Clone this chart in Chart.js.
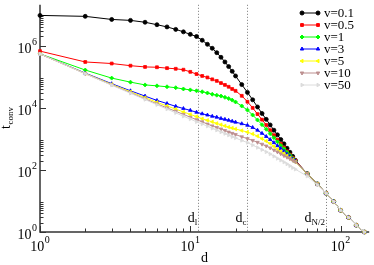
<!DOCTYPE html>
<html>
<head>
<meta charset="utf-8">
<script src="https://cdn.jsdelivr.net/npm/chart.js@4.4.1/dist/chart.umd.min.js"></script>
<style>
  html, body { margin: 0; padding: 0; background: #fff; }
  #wrap { width: 374px; height: 265px; }
</style>
</head>
<body>
<div id="wrap"><canvas id="chart" width="374" height="265"></canvas></div>
<script>
// distance d of each sample
const DISTANCES = [1, 2, 3, 4, 5, 6, 7, 8, 9, 10, 11, 12, 13, 14, 15, 16, 17, 18, 19, 20,
  22, 24, 26, 28, 30, 32, 34, 36, 38, 40, 42, 44, 46, 48, 50,
  60, 70, 80, 90, 100, 113, 127, 144];

// t_conv for each v
const T_V01 = [9.55e6, 8.91e6, 7.08e6, 6.61e6, 5.75e6, 4.79e6, 4.07e6, 3.39e6, 2.82e6, 2.34e6, 2.0e6, 1.51e6, 1.12e6, 8.32e5, 6.03e5, 4.27e5, 3.02e5, 2.14e5, 1.51e5, 1.07e5,
  5.62e4, 3.16e4, 1.82e4, 1.07e4, 6610, 4270, 2820, 1910, 1350, 955, 692, 501, 372, 275, 204,
  75.9, 35.5, 17.8, 9.55, 5.0, 2.95, 1.66, 1.0];
const T_V05 = [6.76e5, 3.02e5, 2.69e5, 2.29e5, 2.09e5, 2.04e5, 1.91e5, 1.82e5, 1.70e5, 1.45e5, 1.23e5, 1.07e5, 9.55e4, 8.32e4, 7.41e4, 6.31e4, 5.5e4, 4.79e4, 4.07e4, 3.55e4,
  2.45e4, 1.58e4, 1.0e4, 6310, 4170, 2820, 1910, 1320, 933, 692, 525, 398, 309, 245, 200,
  75.9, 35.5, 17.8, 9.55, 5.0, 2.95, 1.66, 1.0];
const T_V1 = [5.5e5, 1.66e5, 9.12e4, 6.76e4, 5.5e4, 5.13e4, 4.79e4, 4.47e4, 4.07e4, 3.8e4, 3.55e4, 3.31e4, 3.02e4, 2.75e4, 2.57e4, 2.4e4, 2.19e4, 2.0e4, 1.78e4, 1.55e4,
  1.15e4, 8510, 5890, 4070, 2880, 2040, 1480, 1100, 813, 617, 479, 372, 295, 234, 191,
  75.9, 35.5, 17.8, 9.55, 5.0, 2.95, 1.66, 1.0];
const T_V3 = [5.5e5, 1.32e5, 6.03e4, 3.55e4, 2.4e4, 1.74e4, 1.38e4, 1.12e4, 9550, 8320, 7240, 6460, 5890, 5370, 5010, 4570, 4270, 3980, 3720, 3470,
  3090, 2750, 2340, 1910, 1510, 1200, 955, 759, 603, 490, 398, 324, 269, 224, 191,
  75.9, 35.5, 17.8, 9.55, 5.0, 2.95, 1.66, 1.0];
const T_V5 = [5.5e5, 1.29e5, 5.75e4, 3.31e4, 2.14e4, 1.51e4, 1.15e4, 9120, 7410, 6170, 5250, 4470, 3980, 3550, 3160, 2880, 2630, 2400, 2240, 2090,
  1860, 1660, 1450, 1230, 1020, 851, 708, 575, 468, 398, 339, 288, 245, 209, 182,
  75.9, 35.5, 17.8, 9.55, 5.0, 2.95, 1.66, 1.0];
const T_V10 = [5.5e5, 1.26e5, 5.5e4, 3.09e4, 1.95e4, 1.35e4, 1.0e4, 7760, 6170, 5010, 4170, 3550, 3020, 2630, 2340, 2090, 1860, 1660, 1510, 1380,
  1170, 1020, 891, 776, 676, 589, 513, 437, 380, 331, 288, 257, 229, 204, 182,
  75.9, 35.5, 17.8, 9.55, 5.0, 2.95, 1.66, 1.0];
const T_V50 = [5.5e5, 1.26e5, 5.37e4, 2.95e4, 1.86e4, 1.26e4, 9120, 6920, 5370, 4370, 3550, 3020, 2570, 2190, 1910, 1660, 1480, 1320, 1170, 1070,
  891, 759, 631, 525, 447, 380, 324, 275, 234, 204, 178, 155, 135, 117, 105,
  63, 33, 17.8, 9.55, 5.0, 2.95, 1.66, 1.0];

const X_MAJOR = [1, 10, 100];
const Y_MAJOR = [1, 100, 1e4, 1e6];

// reference distances marked with dotted lines
const MARK_D = [11.3, 24, 80];
const MARK_SUB = ['l', 'c', 'N/2'];
const MARK_TOP = [null, null, 1000];

const SERIES = [
  { label: 'v=0.1', data: T_V01, color: '#000000', style: 'circle', rot: 0 },
  { label: 'v=0.5', data: T_V05, color: '#ff0000', style: 'rect', rot: 0 },
  { label: 'v=1', data: T_V1, color: '#00ff00', style: 'rectRot', rot: 0 },
  { label: 'v=3', data: T_V3, color: '#0000ff', style: 'triangle', rot: 0 },
  { label: 'v=5', data: T_V5, color: '#ffff00', style: 'triangle', rot: -90 },
  { label: 'v=10', data: T_V10, color: '#bc8f8f', style: 'triangle', rot: 180 },
  { label: 'v=50', data: T_V50, color: '#dcdcdc', style: 'triangle', rot: 90 },
];

const SERIF = '"Liberation Serif", "DejaVu Serif", serif';

function drawPower(ctx, exp, x, y, align) {
  ctx.font = `14px ${SERIF}`;
  const base = ctx.measureText('10').width;
  ctx.font = `10px ${SERIF}`;
  const sup = ctx.measureText(String(exp)).width;
  const total = base + sup + 0.5;
  const left = align === 'right' ? x - total : x - total / 2;
  ctx.font = `14px ${SERIF}`;
  ctx.fillText('10', left, y);
  ctx.font = `10px ${SERIF}`;
  ctx.fillText(String(exp), left + base + 0.5, y - 8);
}

function drawSubscripted(ctx, main, sub, right, y) {
  ctx.font = `14px ${SERIF}`;
  const w1 = ctx.measureText(main).width;
  ctx.font = `9px ${SERIF}`;
  const w2 = ctx.measureText(sub).width;
  const left = right - w1 - w2;
  ctx.font = `14px ${SERIF}`;
  ctx.fillText(main, left, y);
  ctx.font = `9px ${SERIF}`;
  ctx.fillText(sub, left + w1, y + 3);
}

const decor = {
  id: 'decor',
  beforeDatasetsDraw(chart) {
    const { ctx, chartArea: a, scales: { x, y } } = chart;
    ctx.save();
    // dotted reference lines
    ctx.strokeStyle = '#777';
    ctx.lineWidth = 1;
    ctx.setLineDash([1, 2]);
    MARK_D.forEach((d, i) => {
      const px = Math.round(x.getPixelForValue(d)) + 0.5;
      const top = MARK_TOP[i] ? y.getPixelForValue(MARK_TOP[i]) : a.top;
      ctx.beginPath();
      ctx.moveTo(px, top);
      ctx.lineTo(px, a.bottom);
      ctx.stroke();
    });
    ctx.setLineDash([]);

    // axes
    ctx.strokeStyle = '#333';
    ctx.lineWidth = 1.5;
    ctx.beginPath();
    ctx.moveTo(a.left, a.top);
    ctx.lineTo(a.left, a.bottom);
    ctx.lineTo(a.right, a.bottom);
    ctx.stroke();

    ctx.lineWidth = 1;
    ctx.beginPath();
    X_MAJOR.forEach((m) => {
      for (let k = 1; k <= 9; k++) {
        const v = m * k;
        if (v > x.max) break;
        const px = Math.round(x.getPixelForValue(v)) + 0.5;
        const len = k === 1 ? 6 : 3.5;
        ctx.moveTo(px, a.bottom);
        ctx.lineTo(px, a.bottom - len);
      }
    });
    Y_MAJOR.forEach((m) => {
      for (let k = 1; k <= 9; k++) {
        const v = m * k;
        if (v > y.max) break;
        const py = Math.round(y.getPixelForValue(v)) + 0.5;
        const len = k === 1 ? 6 : 3.5;
        ctx.moveTo(a.left, py);
        ctx.lineTo(a.left + len, py);
      }
    });
    ctx.stroke();
    ctx.restore();
  },
  afterDraw(chart) {
    const { ctx, chartArea: a, scales: { x, y } } = chart;
    ctx.save();
    ctx.fillStyle = '#000';
    ctx.textBaseline = 'alphabetic';
    ctx.textAlign = 'left';

    // tick labels
    X_MAJOR.forEach((m) => {
      drawPower(ctx, Math.round(Math.log10(m)), x.getPixelForValue(m), a.bottom + 19, 'center');
    });
    Y_MAJOR.forEach((m) => {
      drawPower(ctx, Math.round(Math.log10(m)), a.left - 3, y.getPixelForValue(m) + 7, 'right');
    });

    // axis titles
    ctx.font = `14px ${SERIF}`;
    ctx.textAlign = 'center';
    ctx.fillText('d', (a.left + a.right) / 2, 262);
    ctx.textAlign = 'left';
    ctx.save();
    ctx.translate(10, 129);
    ctx.rotate(-Math.PI / 2);
    ctx.font = `14px ${SERIF}`;
    ctx.fillText('t', 0, 0);
    const tw = ctx.measureText('t').width;
    ctx.font = `9px ${SERIF}`;
    ctx.fillText('conv', tw + 0.5, 3);
    ctx.restore();

    // labels of the dotted lines
    MARK_D.forEach((d, i) => {
      drawSubscripted(ctx, 'd', MARK_SUB[i], x.getPixelForValue(d) - 1, 222);
    });

    // legend
    SERIES.forEach((s, i) => {
      const ly = 13 + i * 12;
      ctx.strokeStyle = s.color;
      ctx.fillStyle = s.color;
      ctx.lineWidth = 1;
      ctx.beginPath();
      ctx.moveTo(302, ly);
      ctx.lineTo(318, ly);
      ctx.stroke();
      [302, 318].forEach((px) => {
        Chart.helpers.drawPoint(ctx, {
          pointStyle: s.style, rotation: s.rot, radius: 2, borderWidth: 0.8,
        }, px, ly);
      });
      ctx.fillStyle = '#000';
      ctx.font = `13px ${SERIF}`;
      ctx.textBaseline = 'middle';
      ctx.fillText(s.label, 324, ly + 1);
    });
    ctx.restore();
  },
};

new Chart(document.getElementById('chart'), {
  type: 'line',
  data: {
    datasets: SERIES.map((s, i) => ({
      label: s.label,
      data: DISTANCES.map((d, j) => ({ x: d, y: s.data[j] })),
      borderColor: s.color,
      backgroundColor: s.color,
      borderWidth: 1,
      pointRadius: 2,
      pointBorderWidth: 0.8,
      pointStyle: s.style,
      pointRotation: s.rot,
      tension: 0,
      clip: false,
      order: SERIES.length - i,
    })),
  },
  options: {
    responsive: false,
    animation: false,
    layout: { padding: { left: 40, top: 0, right: 1, bottom: 33 } },
    plugins: { legend: { display: false }, tooltip: { enabled: false } },
    scales: {
      x: { type: 'logarithmic', display: false, bounds: 'data', min: 1, max: 155 },
      y: { type: 'logarithmic', display: false, bounds: 'data', min: 1, max: 2.1e7 },
    },
  },
  plugins: [decor],
});
</script>
</body>
</html>
